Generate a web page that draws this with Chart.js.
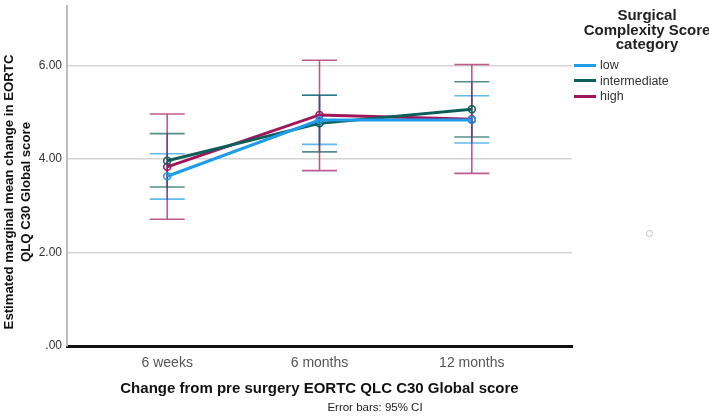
<!DOCTYPE html>
<html>
<head>
<meta charset="utf-8">
<script src="https://cdn.jsdelivr.net/npm/chart.js@4/dist/chart.umd.min.js"></script>
<style>
body{margin:0;background:#fff;font-family:"Liberation Sans",Arial,sans-serif}
#wrap{position:relative;width:709px;height:418px}
#lg{position:absolute;left:574px;top:8px;width:150px}
.lgt{position:absolute;left:0;width:146px;text-align:center;font-weight:bold;font-size:15px;line-height:14.7px;color:#222;top:0}
.it{position:absolute;left:0;display:flex;align-items:center;font-size:12.5px;color:#333}
.sw{width:22px;height:3px;margin-right:4px}
#note{position:absolute;left:0;width:709px;top:401px;text-align:center;padding-left:41px;box-sizing:border-box;font-size:11.5px;color:#222}
#ytitle{position:absolute;left:-183px;top:175px;width:400px;height:34px;transform:rotate(-90deg);transform-origin:center;text-align:center;
  font-weight:bold;font-size:13.2px;line-height:17px;color:#111;white-space:nowrap}
#dot{position:absolute;left:646px;top:230px;width:5px;height:5px;border:1px solid #bbb;border-radius:50%}
</style>
</head>
<body>
<div id="wrap">
<canvas id="c" width="709" height="418"></canvas>
<div id="lg"></div>
<div id="note">Error bars: 95% CI</div>
<div id="dot"></div>
</div>
<script>
const times=['6 weeks','6 months','12 months'];
const groups=['low','intermediate','high'];
const colors=['#1E9BEA','#0B5E5A','#A1155A'];
const barColors=['rgba(30,155,234,0.7)','rgba(11,94,90,0.7)','rgba(161,21,90,0.7)'];
const meanLow=[3.63,4.83,4.83];
const meanInt=[3.96,4.76,5.06];
const meanHigh=[3.83,4.94,4.85];
const ciLowLo=[3.14,4.31,4.34], ciLowHi=[4.11,5.36,5.35];
const ciIntLo=[3.40,4.15,4.47], ciIntHi=[4.54,5.36,5.65];
const ciHighLo=[2.71,3.75,3.69], ciHighHi=[4.96,6.11,6.02];
const yTicks=[0,2,4,6];
const yTitle=['Estimated marginal mean change in EORTC','QLQ C30 Global score'];

const means=[meanLow,meanInt,meanHigh];
const cis=[[ciLowLo,ciLowHi],[ciIntLo,ciIntHi],[ciHighLo,ciHighHi]];

const lg=document.getElementById('lg');
lg.innerHTML='<div class="lgt">Surgical<br>Complexity Score<br>category</div>'+
  groups.map((g,i)=>`<div class="it" style="top:${50+i*15.5}px"><div class="sw" style="background:${colors[i]}"></div>${g}</div>`).join('');
const yt=document.createElement('div');
yt.id='ytitle';yt.innerHTML=yTitle.join('<br>');
document.getElementById('wrap').appendChild(yt);

const errorBars={
  id:'errorBars',
  beforeDatasetsDraw(chart){
    const {ctx,scales:{x,y}}=chart;
    ctx.save();
    ctx.lineWidth=1.6;
    cis.forEach((ci,g)=>{
      ctx.strokeStyle=barColors[g];
      ci[0].forEach((lo,i)=>{
        const px=x.getPixelForValue(i),pl=y.getPixelForValue(lo),ph=y.getPixelForValue(ci[1][i]);
        ctx.beginPath();
        ctx.moveTo(px,pl);ctx.lineTo(px,ph);
        ctx.moveTo(px-17.5,pl);ctx.lineTo(px+17.5,pl);
        ctx.moveTo(px-17.5,ph);ctx.lineTo(px+17.5,ph);
        ctx.stroke();
      });
    });
    ctx.restore();
  }
};

new Chart(document.getElementById('c'),{
  type:'line',
  data:{datasets:means.map((m,g)=>({
    label:groups[g],
    data:m.map((v,i)=>({x:i,y:v})),
    borderColor:colors[g],borderWidth:3,
    pointRadius:3.5,pointBorderWidth:1.5,pointBackgroundColor:'rgba(255,255,255,0)',pointBorderColor:colors[g],
    tension:0
  }))},
  options:{
    responsive:false,animation:false,
    layout:{padding:{left:0,right:137,top:0,bottom:0}},
    plugins:{legend:{display:false},tooltip:{enabled:false}},
    scales:{
      x:{type:'linear',min:-0.658,max:2.658,
        afterBuildTicks:a=>{a.ticks=times.map((t,i)=>({value:i}));},
        afterFit:a=>{a.height=72;a.paddingLeft=0;a.paddingRight=0;},
        grid:{display:false},
        border:{color:'#111',width:3},
        ticks:{callback:v=>times[v],color:'#555',font:{family:'Liberation Sans',size:14},padding:1},
        title:{display:true,text:'Change from pre surgery EORTC QLC C30 Global score',color:'#111',
          font:{family:'Liberation Sans',size:15,weight:'bold'},padding:{top:0,bottom:20}}
      },
      y:{min:0,max:7.28,
        afterBuildTicks:a=>{a.ticks=yTicks.map(v=>({value:v}));},
        afterFit:a=>{a.width=67;a.paddingTop=0;a.paddingBottom=0;},
        grid:{color:'#d4d4d4',lineWidth:1.5,drawTicks:false},
        border:{color:'#bdbdbd',width:2},
        ticks:{callback:v=>v===0?'.00':v.toFixed(2),color:'#333',font:{family:'Liberation Sans',size:12},padding:5}
      }
    }
  },
  plugins:[errorBars]
});
</script>
</body>
</html>
